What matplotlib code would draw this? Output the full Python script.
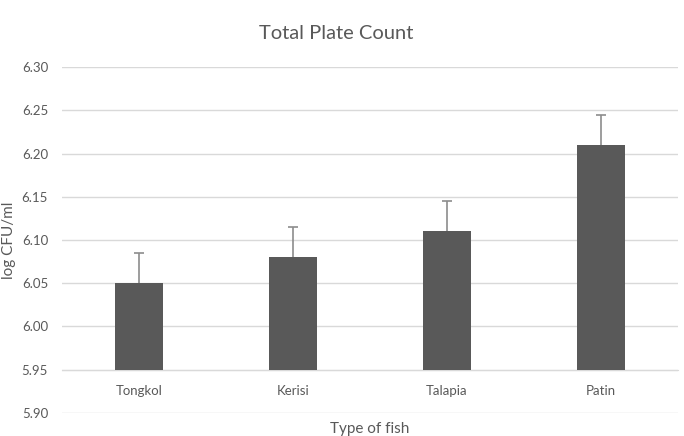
import matplotlib
matplotlib.use("Agg")
import matplotlib.pyplot as plt

# data
fish = ["Tongkol", "Kerisi", "Talapia", "Patin"]
log_cfu = [6.05, 6.08, 6.11, 6.21]
err = [0.035, 0.035, 0.035, 0.035]
yticks = [5.90, 5.95, 6.00, 6.05, 6.10, 6.15, 6.20, 6.25, 6.30]

plt.rcParams['font.family'] = ['Lato', 'DejaVu Sans']
txt = "#595959"
grid = "#d9d9d9"

fig = plt.figure(figsize=(6.84, 4.36), dpi=100)
ax = fig.add_axes([0.0906, 0.0528, 0.9004, 0.7935])

x = range(len(fish))
base = 5.95
ax.bar(x, [v - base for v in log_cfu], bottom=base, width=0.31,
       color="#595959", zorder=3)
# error bars sit behind the bars, so only the upper half shows
ax.errorbar(x, log_cfu, yerr=err, fmt="none", ecolor="#8c8c8c",
            elinewidth=1.2, capsize=3.5, capthick=1.2, zorder=2)

ax.set_ylim(5.90, 6.30)
ax.set_xlim(-0.5, 3.5)
ax.set_yticks(yticks)
ax.set_yticklabels(["%.2f" % t for t in yticks])
ax.yaxis.grid(True, color=grid, linewidth=1, zorder=0)
ax.set_axisbelow(True)

for s in ["top", "right", "left"]:
    ax.spines[s].set_visible(False)
ax.spines["bottom"].set_position(("data", base))
ax.spines["bottom"].set_color(grid)
ax.spines["bottom"].set_zorder(1)

ax.set_xticks(list(x))
ax.set_xticklabels(fish)
ax.tick_params(axis="both", length=0, colors=txt, labelsize=9.5)
ax.tick_params(axis="x", pad=11)
ax.tick_params(axis="y", pad=10)

ax.set_ylabel("log CFU/ml", color=txt, fontsize=11, labelpad=4)
fig.text(0.54, 0.008, "Type of fish", color=txt, fontsize=11, ha="center")
fig.text(0.491, 0.91, "Total Plate Count", color=txt, fontsize=14.5, ha="center")

fig.savefig("out.png", dpi=100, facecolor="white")
